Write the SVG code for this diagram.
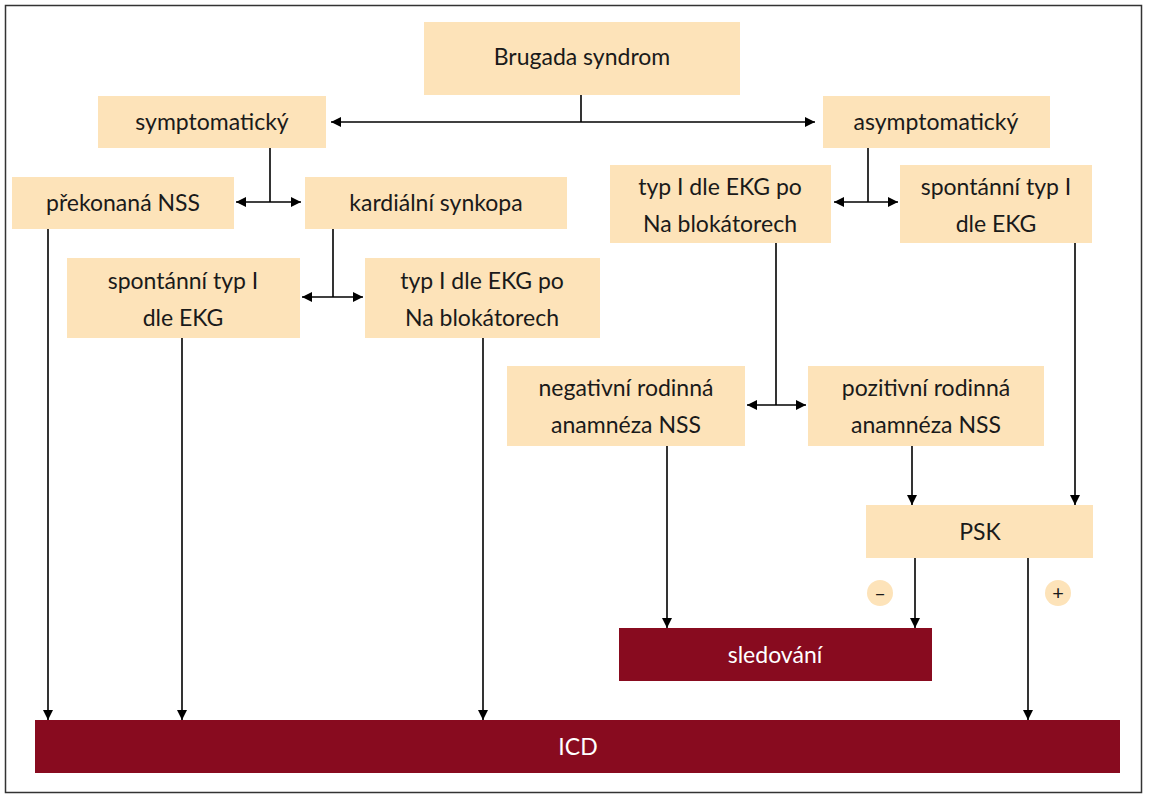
<svg xmlns="http://www.w3.org/2000/svg" width="1149" height="800" viewBox="0 0 1149 800">
<defs>
<marker id="a" viewBox="0 0 10 10" refX="10" refY="5" markerWidth="10" markerHeight="10" orient="auto-start-reverse" markerUnits="userSpaceOnUse"><path d="M0,0 L10,5 L0,10 z" fill="#000"/></marker>
<style>
.n{fill:#fde3b9}
.d{fill:#880b1f}
text{font-family:Lato,"Liberation Sans",sans-serif;font-size:23px;fill:#1a1a1a;text-anchor:middle}
.w{fill:#fff}
.c line,.c path{stroke:#000;stroke-width:1.6;fill:none}
</style>
</defs>
<rect width="1149" height="800" fill="#fff"/>
<rect x="5.5" y="5.5" width="1136" height="787" fill="none" stroke="#333" stroke-width="1.5"/>
<g id="brugada"><rect class="n" x="424" y="22" width="316" height="73"/><text x="582" y="65">Brugada syndrom</text></g>
<g id="sym"><rect class="n" x="98" y="96" width="228" height="52"/><text x="212" y="130">symptomatický</text></g>
<g id="asym"><rect class="n" x="823" y="96" width="227" height="52"/><text x="936" y="130">asymptomatický</text></g>
<g id="nss"><rect class="n" x="12" y="177" width="222" height="52"/><text x="123" y="211">překonaná NSS</text></g>
<g id="synk"><rect class="n" x="305" y="177" width="262" height="52"/><text x="436" y="211">kardiální synkopa</text></g>
<g id="typR"><rect class="n" x="610" y="165" width="221" height="78"/><text x="720" y="195">typ I dle EKG po</text><text x="720" y="232">Na blokátorech</text></g>
<g id="sponR"><rect class="n" x="900" y="165" width="192" height="78"/><text x="996" y="195">spontánní typ I</text><text x="996" y="232">dle EKG</text></g>
<g id="sponL"><rect class="n" x="67" y="258" width="233" height="80"/><text x="183" y="289">spontánní typ I</text><text x="183" y="326">dle EKG</text></g>
<g id="typL"><rect class="n" x="365" y="258" width="235" height="80"/><text x="482" y="289">typ I dle EKG po</text><text x="482" y="326">Na blokátorech</text></g>
<g id="neg"><rect class="n" x="507" y="366" width="238" height="80"/><text x="626" y="396">negativní rodinná</text><text x="626" y="433">anamnéza NSS</text></g>
<g id="poz"><rect class="n" x="808" y="366" width="236" height="80"/><text x="926" y="396">pozitivní rodinná</text><text x="926" y="433">anamnéza NSS</text></g>
<g id="psk"><rect class="n" x="866" y="505" width="227" height="53"/><text x="980" y="540">PSK</text></g>
<g id="minus"><circle class="n" cx="880" cy="593" r="13"/><text x="880" y="600" style="font-size:20px">–</text></g>
<g id="plus"><circle class="n" cx="1058" cy="593" r="13"/><text x="1058" y="600" style="font-size:20px">+</text></g>
<g id="sled"><rect class="d" x="619" y="628" width="313" height="53"/><text class="w" x="775" y="663">sledování</text></g>
<g id="icd"><rect class="d" x="35" y="720" width="1085" height="53"/><text class="w" x="578" y="755">ICD</text></g>
<g class="c">
<line x1="581" y1="95" x2="581" y2="122"/>
<line x1="331" y1="122" x2="815" y2="122" marker-start="url(#a)" marker-end="url(#a)"/>
<line x1="270" y1="148" x2="270" y2="202"/>
<line x1="236" y1="202" x2="301" y2="202" marker-start="url(#a)" marker-end="url(#a)"/>
<line x1="868" y1="148" x2="868" y2="202"/>
<line x1="834" y1="202" x2="898" y2="202" marker-start="url(#a)" marker-end="url(#a)"/>
<line x1="333" y1="229" x2="333" y2="297"/>
<line x1="302" y1="297" x2="363" y2="297" marker-start="url(#a)" marker-end="url(#a)"/>
<line x1="776" y1="243" x2="776" y2="405"/>
<line x1="747" y1="405" x2="806" y2="405" marker-start="url(#a)" marker-end="url(#a)"/>
<line x1="48" y1="229" x2="48" y2="720" marker-end="url(#a)"/>
<line x1="182" y1="338" x2="182" y2="720" marker-end="url(#a)"/>
<line x1="483" y1="338" x2="483" y2="720" marker-end="url(#a)"/>
<line x1="667" y1="446" x2="667" y2="628" marker-end="url(#a)"/>
<line x1="912" y1="446" x2="912" y2="505" marker-end="url(#a)"/>
<line x1="1075" y1="243" x2="1075" y2="505" marker-end="url(#a)"/>
<line x1="915" y1="558" x2="915" y2="628" marker-end="url(#a)"/>
<line x1="1028" y1="558" x2="1028" y2="720" marker-end="url(#a)"/>
</g>
</svg>
